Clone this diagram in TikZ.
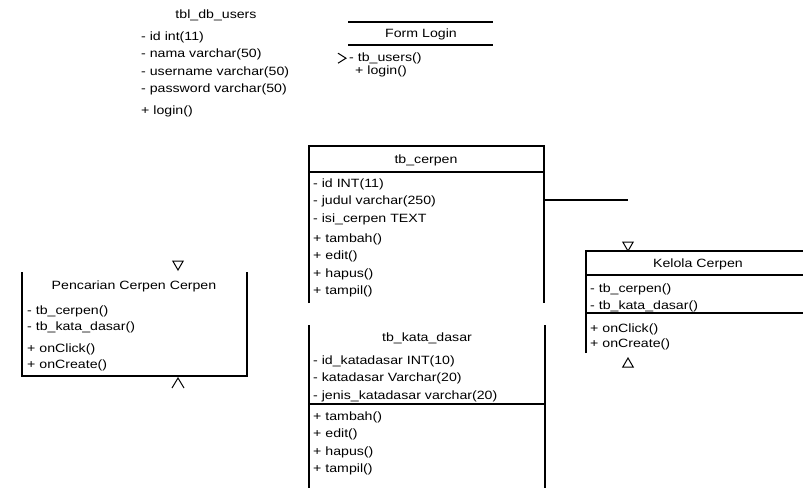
\documentclass[tikz,border=0pt]{standalone}
\usepackage{fontspec}
\newfontfamily\umlfont{Liberation Sans}[FakeStretch=1.18]
\usetikzlibrary{positioning,shapes.geometric}

\begin{document}
\begin{tikzpicture}[x=1pt,y=-1pt,
    node distance=5pt and 0pt,
    ttl/.style={inner sep=0pt,text height=9pt,text depth=3pt,font=\umlfont\fontsize{12pt}{14pt}\selectfont},
    mem/.style={anchor=north west,inner sep=0pt,text height=9pt,text depth=3pt,font=\umlfont\fontsize{12pt}{14pt}\selectfont},
    frame/.style={line width=1.2pt},
    tri/.style={regular polygon,regular polygon sides=3,draw,line width=1pt,minimum size=12pt,inner sep=0pt}]
    \useasboundingbox (0,0) rectangle (803,488);

    % tbl_db_users (no frame)
    \node[ttl] (users) at (216,15) {tbl\_db\_users};
    \node[mem] (users1) at (141,31) {- id int(11)};
    \node[mem,below right=of users1.south west] (users2) {- nama varchar(50)};
    \node[mem,below right=of users2.south west] (users3) {- username varchar(50)};
    \node[mem,below right=of users3.south west] (users4) {- password varchar(50)};
    \node[mem,below right=10pt and 0pt of users4.south west] (users5) {+ login()};

    % Form Login
    \node[ttl] (login) at (421,34) {Form Login};
    \node[mem] (login1) at (349,52) {- tb\_users()};
    \node[mem,below right=1pt and 6pt of login1.south west] (login2) {+ login()};
    \draw[frame] (348,22) -- (493,22);
    \draw[frame] (348,45) -- (493,45);
    \draw[line width=1pt] ([xshift=-11pt,yshift=5pt]login1.west) -- ([xshift=-3pt]login1.west) -- ([xshift=-11pt,yshift=-5pt]login1.west);

    % tb_cerpen
    \node[ttl] (cerpen) at (426,160) {tb\_cerpen};
    \node[mem] (cerpen1) at (313,178) {- id INT(11)};
    \node[mem,below right=of cerpen1.south west] (cerpen2) {- judul varchar(250)};
    \node[mem,below right=of cerpen2.south west] (cerpen3) {- isi\_cerpen TEXT};
    \node[mem,below right=8pt and 0pt of cerpen3.south west] (cerpen4) {+ tambah()};
    \node[mem,below right=of cerpen4.south west] (cerpen5) {+ edit()};
    \node[mem,below right=of cerpen5.south west] (cerpen6) {+ hapus()};
    \node[mem,below right=of cerpen6.south west] (cerpen7) {+ tampil()};
    \draw[frame] (309,303) -- (309,146) -- (544,146) -- (544,303);
    \draw[frame] (309,172) -- (544,172);
    \coordinate (cerpenR) at (544,200);
    \coordinate (cerpenEnd) at (628,200);
    \draw[frame] (cerpenR) -- (cerpenEnd);

    % tb_kata_dasar
    \node[ttl] (kata) at (427,338) {tb\_kata\_dasar};
    \node[mem] (kata1) at (313,355) {- id\_katadasar INT(10)};
    \node[mem,below right=of kata1.south west] (kata2) {- katadasar Varchar(20)};
    \node[mem,below right=of kata2.south west] (kata3) {- jenis\_katadasar varchar(20)};
    \node[mem,below right=9pt and 0pt of kata3.south west] (kata4) {+ tambah()};
    \node[mem,below right=of kata4.south west] (kata5) {+ edit()};
    \node[mem,below right=of kata5.south west] (kata6) {+ hapus()};
    \node[mem,below right=of kata6.south west] (kata7) {+ tampil()};
    \draw[frame] (309,325) -- (309,488);
    \draw[frame] (545,325) -- (545,488);
    \draw[frame] (309,404) -- (545,404);

    % Pencarian Cerpen
    \node[ttl] (cari) at (134,286) {Pencarian Cerpen Cerpen};
    \node[mem] (cari1) at (27,305) {- tb\_cerpen()};
    \node[mem,below right=4pt and 0pt of cari1.south west] (cari2) {- tb\_kata\_dasar()};
    \node[mem,below right=9pt and 0pt of cari2.south west] (cari3) {+ onClick()};
    \node[mem,below right=4pt and 0pt of cari3.south west] (cari4) {+ onCreate()};
    \draw[frame] (22,272) -- (22,376) -- (247,376) -- (247,272);
    \node[tri,shape border rotate=180] (cariT) at (178,264) {};
    \coordinate (cariB) at (178,378);
    \draw[line width=1pt] ([xshift=-6pt,yshift=-10pt]cariB) -- (cariB) -- ([xshift=6pt,yshift=-10pt]cariB);

    % Kelola Cerpen
    \node[ttl] (kelola) at (698,264) {Kelola Cerpen};
    \node[mem] (kelola1) at (590,283) {- tb\_cerpen()};
    \node[mem,below right=of kelola1.south west] (kelola2) {- tb\_kata\_dasar()};
    \node[mem,below right=10pt and 0pt of kelola2.south west] (kelola3) {+ onClick()};
    \node[mem,below right=3pt and 0pt of kelola3.south west] (kelola4) {+ onCreate()};
    \draw[frame] (586,353) -- (586,251) -- (803,251);
    \draw[frame] (586,275) -- (803,275);
    \draw[frame] (586,313) -- (803,313);
    \node[tri,shape border rotate=180] (kelolaT) at (628,245) {};
    \node[tri] (kelolaB) at (628,364) {};
\end{tikzpicture}
\end{document}
